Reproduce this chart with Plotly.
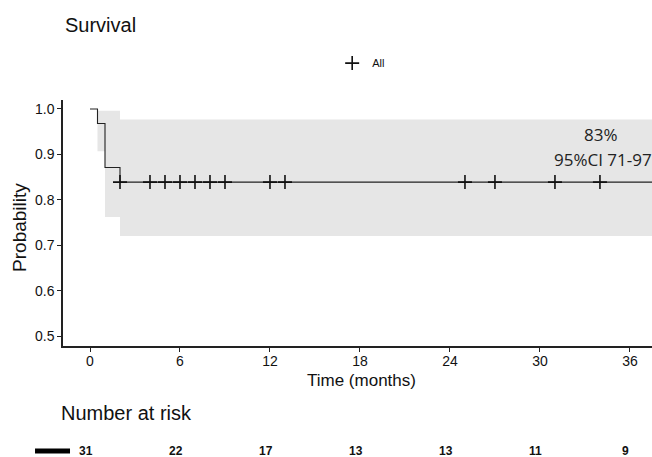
import plotly.graph_objects as go

# ---- data ----
km_time = [0, 0.5, 1, 2, 38]
km_surv = [1.0, 0.968, 0.871, 0.839, 0.839]

ci_time = [0.5, 1, 2, 38]
ci_upper = [0.996, 0.996, 0.977, 0.977]
ci_lower = [0.907, 0.762, 0.720, 0.720]

censor_time = [2, 4, 5, 6, 7, 8, 9, 12, 13, 25, 27, 31, 34]
censor_surv = [0.839] * len(censor_time)

x_ticks = [0, 6, 12, 18, 24, 30, 36]
y_ticks = [0.5, 0.6, 0.7, 0.8, 0.9, 1.0]

risk_time = [0, 6, 12, 18, 24, 30, 36]
risk_count = [31, 22, 17, 13, 13, 11, 9]

label_main = "83%"
label_ci = "95%CI 71-97"

FONT = "Liberation Sans, Arial, Helvetica, sans-serif"
INK = "#111111"

fig = go.Figure()

# confidence band
fig.add_trace(go.Scatter(x=ci_time, y=ci_lower, mode="lines", line=dict(width=0, shape="hv"),
                         hoverinfo="skip", showlegend=False))
fig.add_trace(go.Scatter(x=ci_time, y=ci_upper, mode="lines", line=dict(width=0, shape="hv"),
                         fill="tonexty", fillcolor="#e6e6e6", hoverinfo="skip", showlegend=False))

# KM curve
fig.add_trace(go.Scatter(x=km_time, y=km_surv, mode="lines",
                         line=dict(color="#222222", width=1.1, shape="hv"), showlegend=False))

# censor marks
fig.add_trace(go.Scatter(x=censor_time, y=censor_surv, mode="markers",
                         marker=dict(symbol="cross-thin", size=10, line=dict(width=1.6, color=INK), color=INK),
                         name="All", showlegend=True))

fig.update_xaxes(range=[-1.8, 37.47], tickvals=x_ticks, ticktext=[str(v) for v in x_ticks],
                 showline=True, linecolor="#222222", linewidth=1.5, ticks="outside", ticklen=4,
                 tickcolor="#222222", tickwidth=1, showgrid=False, zeroline=False,
                 ticklabelstandoff=-3,
                 tickfont=dict(family=FONT, size=14, color=INK))
fig.update_yaxes(range=[0.478, 1.0198], tickvals=y_ticks, ticktext=[f"{v:.1f}" for v in y_ticks],
                 showline=True, linecolor="#222222", linewidth=1.5, ticks="outside", ticklen=4,
                 tickcolor="#222222", tickwidth=1, showgrid=False, zeroline=False,
                 tickfont=dict(family=FONT, size=14, color=INK))

annotations = [
    dict(text="Survival", xref="paper", yref="paper", x=0.0, y=1.305, xanchor="left", yanchor="middle",
         showarrow=False, font=dict(family=FONT, size=20, color=INK)),
    dict(text="Probability", xref="paper", yref="paper", x=-0.073, y=0.48, xanchor="center", yanchor="middle",
         textangle=-90, showarrow=False, font=dict(family=FONT, size=19, color=INK)),
    dict(text="Time (months)", xref="paper", yref="paper", x=0.506, y=-0.142, xanchor="center", yanchor="middle",
         showarrow=False, font=dict(family=FONT, size=17, color=INK)),
    dict(text="Number at risk", xref="paper", yref="paper", x=-0.007, y=-0.271, xanchor="left", yanchor="middle",
         showarrow=False, font=dict(family=FONT, size=20, color=INK)),
    dict(text=label_main, xref="x", yref="y", x=34.1, y=0.943, xanchor="center", yanchor="middle",
         showarrow=False, font=dict(family="Open Sans, sans-serif", size=17, color="#222222")),
    dict(text=label_ci, xref="x", yref="y", x=34.2, y=0.888, xanchor="center", yanchor="middle",
         showarrow=False, font=dict(family="Open Sans, sans-serif", size=17, color="#222222")),
]
for t, n in zip(risk_time, risk_count):
    annotations.append(dict(text=f"<b>{n}</b>", xref="x", yref="paper", x=t, y=-0.427, xshift=-4,
                            xanchor="center", yanchor="middle", showarrow=False,
                            font=dict(family=FONT, size=12, color=INK)))

fig.update_layout(
    width=652, height=457,
    margin=dict(l=63, r=0, t=100, b=111),
    plot_bgcolor="white", paper_bgcolor="white",
    font=dict(family=FONT, color=INK),
    annotations=annotations,
    showlegend=True,
    legend=dict(x=0.457, y=1.150, xanchor="left", yanchor="middle", bgcolor="rgba(0,0,0,0)",
                font=dict(family=FONT, size=11, color=INK), itemwidth=30),
    shapes=[dict(type="line", xref="paper", yref="paper", x0=-0.0475, x1=0.0119, y0=-0.427, y1=-0.427,
                 line=dict(color="black", width=5))],
)

fig.write_html("out.html", config={"displayModeBar": False},
               post_script="document.body.style.margin='0';document.body.style.overflow='hidden';")
